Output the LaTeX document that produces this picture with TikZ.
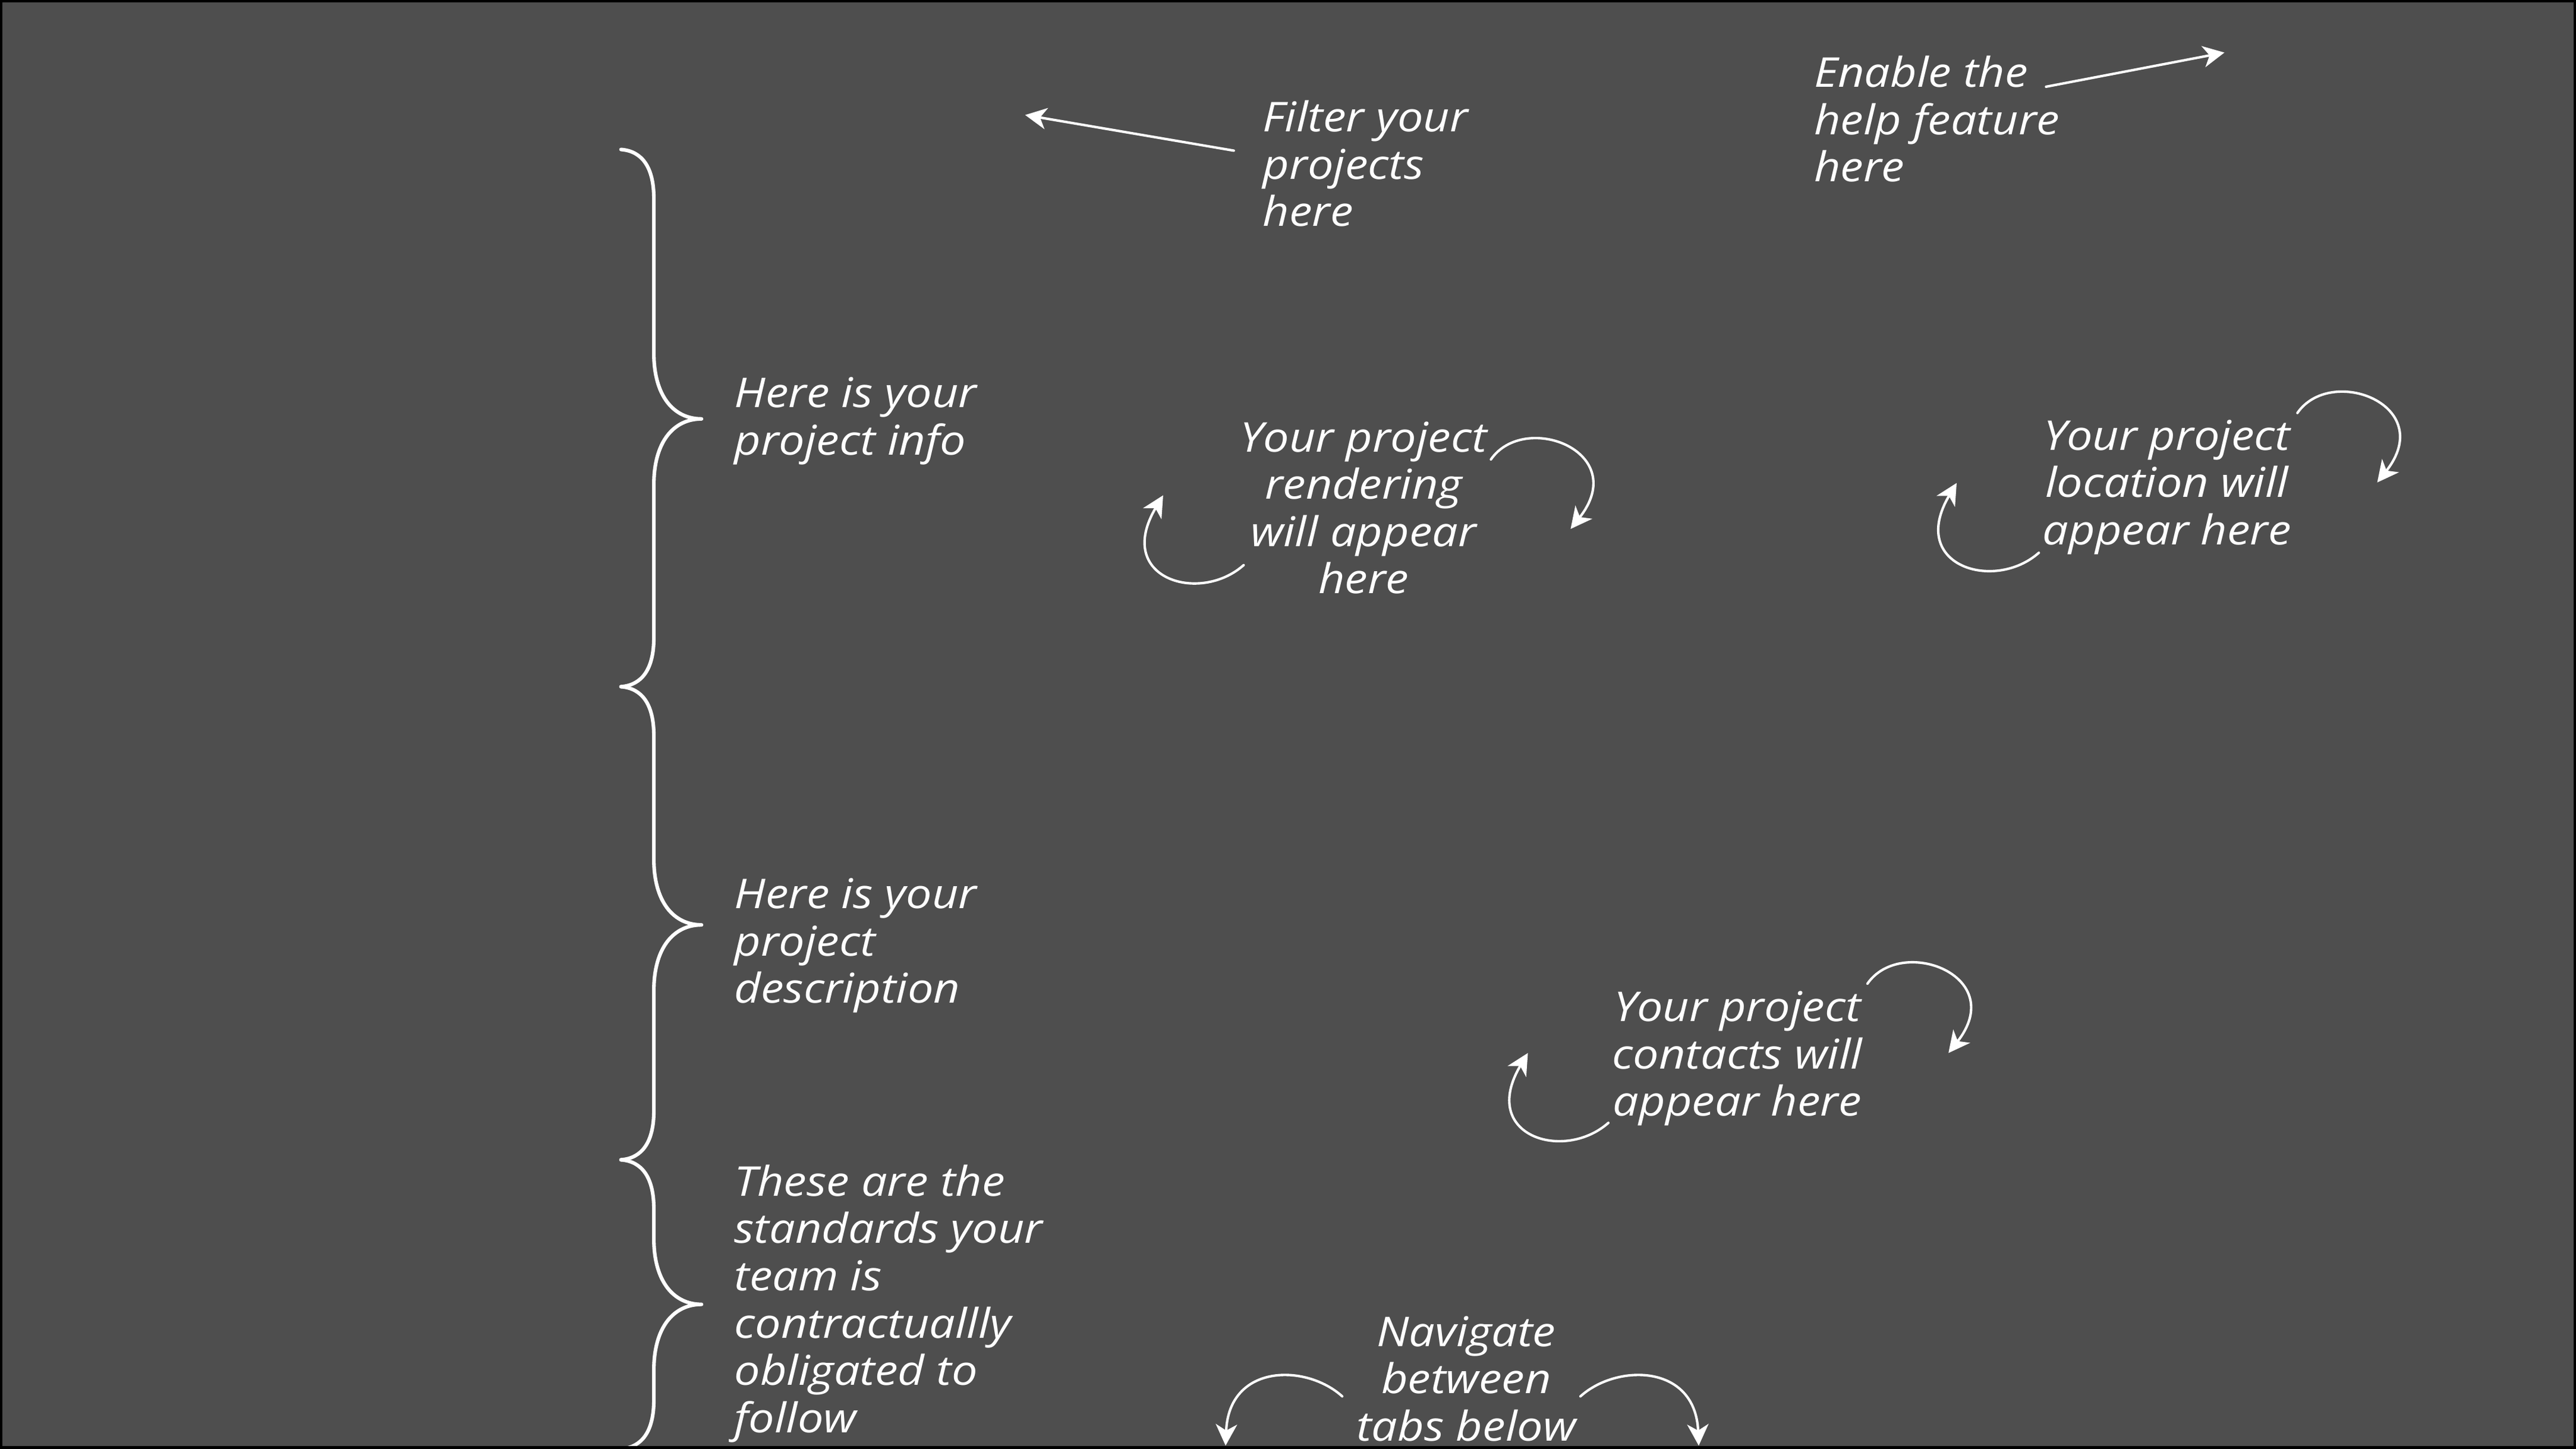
\documentclass[tikz,border=0pt]{standalone}
\usepackage{fontspec}
\setmainfont{Open Sans}[FakeStretch=1.12]
\usetikzlibrary{arrows.meta}
\definecolor{bg}{RGB}{78,78,78}
\newcommand\mybrace[3]{%
  \draw[bracestyle] (378,#1) .. controls (391,#1+1) and (398,#1+11) .. (398,#1+30)
    -- (398,#2-40) .. controls (398,#2-14) and (410,#2) .. (427,#2)
    .. controls (410,#2) and (398,#2+14) .. (398,#2+40)
    -- (398,#3-30) .. controls (398,#3-11) and (391,#3-1) .. (378,#3);}
\begin{document}
\begin{tikzpicture}[x=1pt,y=-1pt,
  lbl/.style={text=white, inner sep=0pt, font=\fontsize{25}{28.8}\selectfont\itshape},
  lleft/.style={lbl, align=left, anchor=base west},
  lcenter/.style={lbl, align=center, anchor=base},
  pointer/.style={draw=white, line width=1.5pt, line cap=round,
    -{Stealth[length=13pt,width=13pt,inset=3.8pt]}},
  bracestyle/.style={draw=white, line width=2.2pt, line cap=round, line join=round},
]
\fill[bg] (0,0) rectangle (1568,882);
\useasboundingbox (0,0) rectangle (1568,882);

% braces
\mybrace{91}{255}{418}
\mybrace{418}{563}{706}
\mybrace{706}{794}{882}

% text (anchor = baseline of the last line)
\node[lleft] (filter) at (768.5,137.8) {Filter your\\projects\\here};
\node[lleft] (enable) at (1104,110.6) {Enable the\\help feature\\here};
\node[lleft] (info) at (446.8,276.8) {Here is your\\project info};
\node[lcenter] (rendering) at (830,361.4) {Your project\\rendering\\will appear\\here};
\node[lcenter] (location) at (1319,331.6) {Your project\\location will\\appear here};
\node[lleft] (description) at (446.8,610.6) {Here is your\\project\\description};
\node[lcenter] (contacts) at (1057.5,679.3) {Your project\\contacts will\\appear here};
\node[lleft] (standards) at (446.8,872) {These are the\\standards your\\team is\\contractuallly\\obligated to\\follow};
\node[lcenter] (navigate) at (892.5,877.1) {Navigate\\between\\tabs below};

% arrow end points
\coordinate (filterS) at (751,91.7);
\coordinate (filterT) at (624,70);
\coordinate (enableS) at (1245.4,52.8);
\coordinate (enableT) at (1354,32);
\coordinate (rendLS) at (757,344);
\coordinate (rendLT) at (708,301.5);
\coordinate (rendRS) at (907.5,279.7);
\coordinate (rendRT) at (956,322);
\coordinate (locLS) at (1241,336.5);
\coordinate (locLT) at (1191,294);
\coordinate (locRS) at (1398.4,251.4);
\coordinate (locRT) at (1447,293.7);
\coordinate (conLS) at (979,683.5);
\coordinate (conLT) at (930,641);
\coordinate (conRS) at (1136.7,598.8);
\coordinate (conRT) at (1186,641);
\coordinate (navLS) at (817,850);
\coordinate (navLT) at (746,880);
\coordinate (navRS) at (962,850);
\coordinate (navRT) at (1034,880);

% arrows
\draw[pointer] (filterS) -- (filterT);
\draw[pointer] (enableS) -- (enableT);
\draw[pointer] (rendLS) .. controls +(-27,24) and +(-30,50.5) .. (rendLT);
\draw[pointer] (rendRS) .. controls +(20.5,-29.7) and +(37,-47) .. (rendRT);
\draw[pointer] (locLS) .. controls +(-27,24) and +(-30,50.5) .. (locLT);
\draw[pointer] (locRS) .. controls +(20.5,-29.7) and +(37,-47) .. (locRT);
\draw[pointer] (conLS) .. controls +(-27,24) and +(-30,50.5) .. (conLT);
\draw[pointer] (conRS) .. controls +(20.5,-29.7) and +(37,-47) .. (conRT);
\draw[pointer] (navLS) .. controls +(-22,-20) and +(2,-50) .. (navLT);
\draw[pointer] (navRS) .. controls +(22,-20) and +(-2,-50) .. (navRT);

\draw[black, line width=1.6pt] (0.8,0.8) rectangle (1567.2,881.2);
\end{tikzpicture}
\end{document}
